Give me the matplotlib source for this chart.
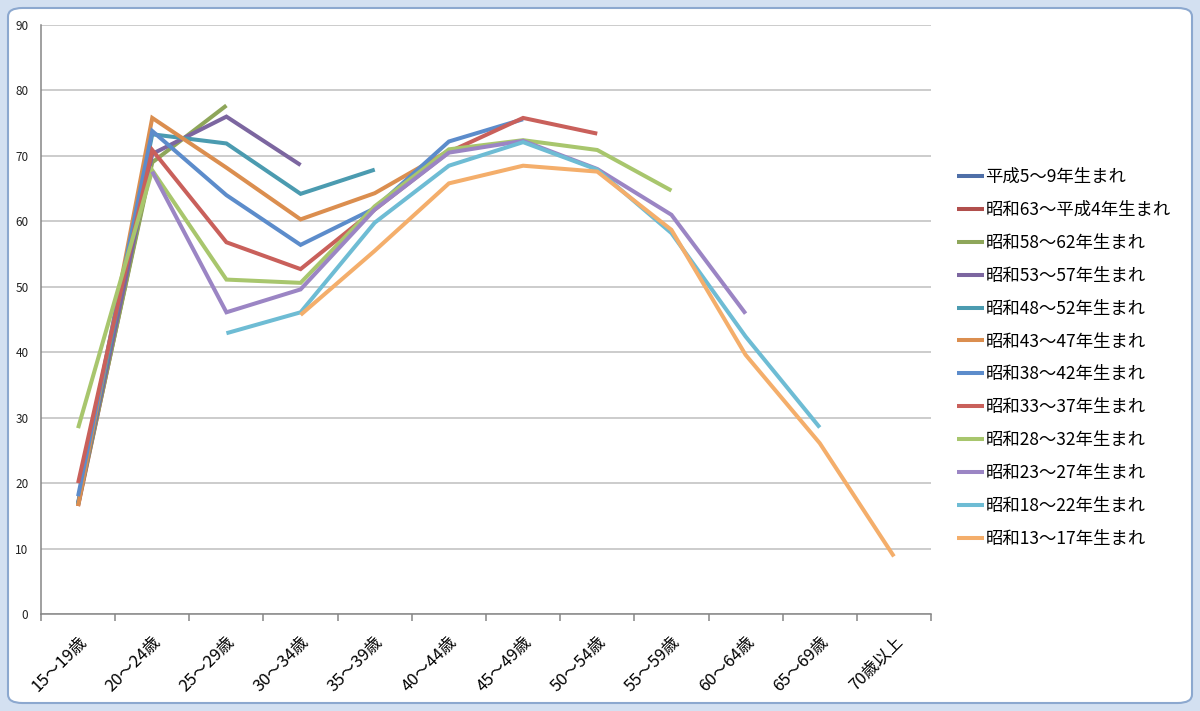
import matplotlib.pyplot as plt
import numpy as np
from matplotlib.patches import FancyBboxPatch

plt.rcParams['font.family'] = ['Noto Sans CJK JP', 'DejaVu Sans']

nan = np.nan

# age groups on the x axis
ages = ['15～19歳', '20～24歳', '25～29歳', '30～34歳', '35～39歳', '40～44歳',
        '45～49歳', '50～54歳', '55～59歳', '60～64歳', '65～69歳', '70歳以上']

# birth cohorts (legend order)
cohorts = ['平成5～9年生まれ', '昭和63～平成4年生まれ', '昭和58～62年生まれ',
           '昭和53～57年生まれ', '昭和48～52年生まれ', '昭和43～47年生まれ',
           '昭和38～42年生まれ', '昭和33～37年生まれ', '昭和28～32年生まれ',
           '昭和23～27年生まれ', '昭和18～22年生まれ', '昭和13～17年生まれ']

# values, one list per cohort
h05_09 = [16.0]
s63_h04 = [16.5, 69.5]
s58_62 = [16.8, 69.0, 77.7]
s53_57 = [17.0, 70.3, 76.0, 68.6]
s48_52 = [16.8, 73.3, 71.9, 64.2, 67.9]
s43_47 = [16.5, 75.8, 68.2, 60.3, 64.3, 70.8]
s38_42 = [18.0, 73.8, 64.0, 56.4, 62.0, 72.2, 75.6]
s33_37 = [20.0, 70.9, 56.8, 52.7, 61.8, 70.6, 75.8, 73.4]
s28_32 = [28.4, 67.8, 51.1, 50.6, 62.3, 71.0, 72.4, 70.9, 64.7]
s23_27 = [nan, 67.6, 46.1, 49.6, 61.8, 70.5, 72.3, 68.0, 61.0, 45.9]
s18_22 = [nan, nan, 42.9, 46.1, 59.8, 68.5, 72.1, 67.9, 58.2, 42.4, 28.5]
s13_17 = [nan, nan, nan, 45.7, 55.5, 65.8, 68.5, 67.6, 58.7, 39.6, 26.1, 8.8]

series = [h05_09, s63_h04, s58_62, s53_57, s48_52, s43_47,
          s38_42, s33_37, s28_32, s23_27, s18_22, s13_17]

colors = ['#4F6FA8', '#B14F4C', '#8EA65A', '#7C66A0', '#4B9BB0', '#DB8E4F',
          '#5C8CCB', '#C9605B', '#A8C66D', '#9B85C4', '#6EBCD4', '#F4AE6B']

fig = plt.figure(figsize=(12, 7.11), dpi=100)
fig.patch.set_facecolor('#D3E0F1')

# excel-like chart frame
frame = FancyBboxPatch((8 / 1200, 8 / 711), 1184 / 1200, 695 / 711,
                       boxstyle='round,pad=0,rounding_size=0.012',
                       transform=fig.transFigure, facecolor='white',
                       edgecolor='#8CA8CF', linewidth=1.5, zorder=-5)
fig.patches.append(frame)

ax = fig.add_axes([41 / 1200, 1 - 614 / 711, 890 / 1200, 589 / 711])
ax.set_facecolor('none')

x = np.arange(len(ages))
for name, vals, c in zip(cohorts, series, colors):
    ax.plot(x[:len(vals)], vals, color=c, lw=2.9, label=name,
            solid_joinstyle='miter', solid_capstyle='butt')

ax.set_xlim(-0.5, len(ages) - 0.5)
ax.set_ylim(0, 90)
ax.set_yticks(np.arange(0, 91, 10))
ax.yaxis.grid(True, color='#BEBEBE', lw=1.1)
ax.set_axisbelow(True)

# ticks between categories, labels at category centres
ax.set_xticks(np.arange(-0.5, len(ages), 1))
ax.set_xticklabels([])
ax.set_xticks(x, minor=True)
ax.set_xticklabels(ages, minor=True, rotation=45, ha='right', va='top',
                   rotation_mode='anchor', fontsize=12)
ax.tick_params(axis='x', which='major', length=5, color='#868686', width=1.1)
ax.tick_params(axis='x', which='minor', length=0, pad=14)
ax.tick_params(axis='y', length=0, pad=9, labelsize=8.5, labelcolor='#222222')

for s in ['top', 'right']:
    ax.spines[s].set_visible(False)
for s in ['left', 'bottom']:
    ax.spines[s].set_color('#868686')
    ax.spines[s].set_linewidth(1.1)

leg = fig.legend(loc='center left', bbox_to_anchor=(948 / 1200, 0.4965),
                 frameon=False, fontsize=12.5, handlelength=1.6,
                 handletextpad=0.05, labelspacing=0.86, borderpad=0)

fig.savefig('out.png', dpi=100, facecolor=fig.get_facecolor())
